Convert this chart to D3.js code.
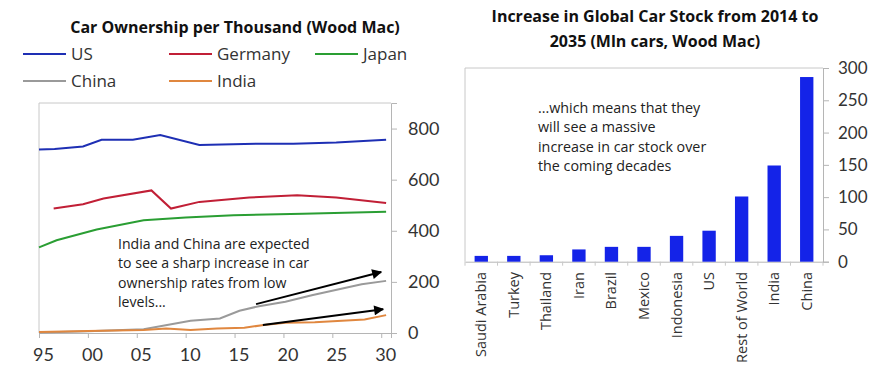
<!DOCTYPE html>
<html>
<head>
<meta charset="utf-8">
<script src="https://cdn.jsdelivr.net/npm/d3@7"></script>
<style>
  body { margin: 0; background: #fff; }
  svg { display: block; font-family: "Open Sans", sans-serif; }
  .domain { stroke: #b5b5b5; }
  .tick line { stroke: #b5b5b5; }
  .tick text { fill: #333; font-family: Lato, sans-serif; }
</style>
</head>
<body>
<svg width="889" height="387"></svg>
<script>
(function () {

    // left chart: car ownership per thousand, [year, value]
    var usData = [[1995, 718], [1996.6, 720], [1999.5, 730], [2001.4, 756], [2004.6, 756],
        [2007.4, 775], [2011.4, 736], [2016, 740], [2021, 741], [2025.4, 745], [2030.5, 756]];
    var germanyData = [[1996.5, 487], [1999.5, 504], [2001.6, 526], [2006.5, 558], [2008.5, 487],
        [2011.4, 513], [2016.5, 530], [2021.4, 539], [2025.4, 530], [2030.5, 509]];
    var japanData = [[1995, 335], [1996.8, 363], [2000.9, 405], [2005.7, 441], [2010, 452],
        [2014.9, 461], [2022, 467], [2030.5, 474]];
    var chinaData = [[1995, 2], [2000, 7], [2005.7, 15], [2010.5, 48], [2013.5, 57], [2015.5, 87],
        [2017.5, 105], [2020.2, 122], [2022.9, 148], [2028, 191], [2030.5, 204]];
    var indiaData = [[1995, 4], [2000, 8], [2005.7, 12], [2008, 18], [2010.5, 12], [2013.2, 18],
        [2016, 21], [2018, 31], [2020.2, 40], [2023.2, 42], [2028.3, 53], [2030.5, 70]];

    var seriesNames = ["US", "Germany", "Japan", "China", "India"];
    var seriesColors = ["#1e2fb4", "#c11f36", "#2a9e33", "#9a9a9a", "#e0873f"];
    var seriesData = [usData, germanyData, japanData, chinaData, indiaData];

    var lineYearTicks = [1995, 2000, 2005, 2010, 2015, 2020, 2025, 2030];
    var lineValueTicks = [0, 200, 400, 600, 800];

    // arrows in the left chart, [year, value] start and end
    var arrows = [
        [[2017.2, 113], [2030, 239]],
        [[2017.9, 31], [2030.2, 93]]
    ];

    // right chart: increase in car stock 2014-2035, mln cars
    var countries = ["Saudi Arabia", "Turkey", "Thailand", "Iran", "Brazil", "Mexico",
        "Indonesia", "US", "Rest of World", "India", "China"];
    var stockIncrease = [9, 9, 10, 19, 23, 23, 40, 48, 101, 149, 286];
    var barValueTicks = [0, 50, 100, 150, 200, 250, 300];

    var svg = d3.select("svg");

    svg.append("defs").append("marker")
        .attr("id", "arrowhead")
        .attr("viewBox", "0 0 10 10")
        .attr("refX", 9)
        .attr("refY", 5)
        .attr("markerWidth", 6)
        .attr("markerHeight", 5)
        .attr("markerUnits", "strokeWidth")
        .attr("orient", "auto")
        .append("path")
        .attr("d", "M0,0L10,5L0,10Z")
        .attr("fill", "#000");

    // ---------- left chart ----------
    var x = d3.scaleLinear().domain([1995, 2031]).range([39, 391]),
        y = d3.scaleLinear().domain([0, 900]).range([333, 103]);

    svg.append("text")
        .attr("x", 235).attr("y", 33)
        .attr("text-anchor", "middle")
        .attr("font-size", "16px")
        .attr("font-weight", "bold")
        .attr("fill", "#111")
        .text("Car Ownership per Thousand (Wood Mac)");

    // legend
    var legend = svg.selectAll(".legend")
        .data(seriesNames)
        .enter().append("g")
        .attr("class", "legend")
        .attr("transform", function (d, i) {
            return "translate(" + [23, 169, 315][i % 3] + "," + (i < 3 ? 54 : 81) + ")";
        });
    legend.append("line")
        .attr("x1", 0).attr("x2", 43)
        .attr("stroke", function (d, i) { return seriesColors[i]; })
        .attr("stroke-width", 2);
    legend.append("text")
        .attr("x", 48).attr("y", 6)
        .attr("font-size", "17px")
        .attr("fill", "#333")
        .text(function (d) { return d; });

    // plot frame
    svg.append("path")
        .attr("d", "M" + x.range()[0] + "," + y(0) + "V" + y.range()[1] + "H" + x.range()[1])
        .attr("fill", "none")
        .attr("stroke", "#c8c8c8");

    svg.append("g")
        .attr("transform", "translate(0," + y(0) + ")")
        .call(d3.axisBottom(x).tickValues(lineYearTicks).tickSizeOuter(0).tickSize(5).tickPadding(10)
            .tickFormat(function (d) { return String(d).slice(2); }))
        .call(function (g) {
            g.selectAll("text").attr("font-size", "18px").attr("dx", 4);
        });

    svg.append("g")
        .attr("transform", "translate(" + x.range()[1] + ",0)")
        .call(d3.axisRight(y).tickValues(lineValueTicks).tickSizeOuter(0).tickSize(6).tickPadding(11))
        .call(function (g) {
            g.selectAll("text").attr("font-size", "18px");
        });

    var line = d3.line()
        .x(function (d) { return x(d[0]); })
        .y(function (d) { return y(d[1]); });

    svg.selectAll(".series")
        .data(seriesData)
        .enter().append("path")
        .attr("class", "series")
        .attr("d", line)
        .attr("fill", "none")
        .attr("stroke", function (d, i) { return seriesColors[i]; })
        .attr("stroke-width", 2);

    var note1 = ["India and China are expected", "to see a sharp increase in car",
        "ownership rates from low", "levels..."];
    svg.append("text")
        .attr("x", 118).attr("y", 249)
        .attr("font-size", "14.1px")
        .attr("fill", "#222")
        .selectAll("tspan")
        .data(note1)
        .enter().append("tspan")
        .attr("x", 118)
        .attr("dy", function (d, i) { return i ? 19.3 : 0; })
        .text(function (d) { return d; });

    svg.selectAll(".arrow")
        .data(arrows)
        .enter().append("line")
        .attr("class", "arrow")
        .attr("x1", function (d) { return x(d[0][0]); })
        .attr("y1", function (d) { return y(d[0][1]); })
        .attr("x2", function (d) { return x(d[1][0]); })
        .attr("y2", function (d) { return y(d[1][1]); })
        .attr("stroke", "#000")
        .attr("stroke-width", 2)
        .attr("marker-end", "url(#arrowhead)");

    // ---------- right chart ----------
    var xb = d3.scaleBand().domain(countries).range([465, 823]).paddingInner(0.59).paddingOuter(0.295),
        yb = d3.scaleLinear().domain([0, 300]).range([261.7, 68]);

    svg.append("text")
        .attr("x", 655).attr("y", 22)
        .attr("text-anchor", "middle")
        .attr("font-size", "16px")
        .attr("font-weight", "bold")
        .attr("fill", "#111")
        .selectAll("tspan")
        .data(["Increase in Global Car Stock from 2014 to", "2035 (Mln cars, Wood Mac)"])
        .enter().append("tspan")
        .attr("x", 655)
        .attr("dy", function (d, i) { return i ? 25 : 0; })
        .text(function (d) { return d; });

    svg.append("path")
        .attr("d", "M" + xb.range()[0] + "," + yb(0) + "V" + yb.range()[1] + "H" + xb.range()[1])
        .attr("fill", "none")
        .attr("stroke", "#c8c8c8");

    var xAxisB = svg.append("g")
        .attr("transform", "translate(0," + yb(0) + ")")
        .call(d3.axisBottom(xb).tickSizeOuter(0).tickSize(0).tickFormat(""));
    // small ticks between the bars
    xAxisB.selectAll(".sep")
        .data(d3.range(countries.length + 1))
        .enter().append("line")
        .attr("class", "sep")
        .attr("x1", function (i) { return xb.range()[0] + i * xb.step(); })
        .attr("x2", function (i) { return xb.range()[0] + i * xb.step(); })
        .attr("y1", 0).attr("y2", 4)
        .attr("stroke", "#c8c8c8");

    svg.append("g")
        .attr("transform", "translate(" + xb.range()[1] + ",0)")
        .call(d3.axisRight(yb).tickValues(barValueTicks).tickSizeOuter(0).tickSize(6).tickPadding(9))
        .call(function (g) {
            g.selectAll("text").attr("font-size", "17px");
        });

    svg.selectAll(".bar")
        .data(stockIncrease)
        .enter().append("rect")
        .attr("class", "bar")
        .attr("x", function (d, i) { return xb(countries[i]); })
        .attr("width", xb.bandwidth())
        .attr("y", function (d) { return yb(d); })
        .attr("height", function (d) { return yb(0) - yb(d); })
        .attr("fill", "#1423e8");

    svg.selectAll(".cat")
        .data(countries)
        .enter().append("text")
        .attr("class", "cat")
        .attr("transform", function (d) {
            return "translate(" + (xb(d) + xb.bandwidth() / 2 + 5) + ",272) rotate(-90)";
        })
        .attr("text-anchor", "end")
        .attr("font-size", "14.5px")
        .attr("fill", "#333")
        .text(function (d) { return d; });

    var note2 = ["...which means that they", "will see a massive",
        "increase in car stock over", "the coming decades"];
    svg.append("text")
        .attr("x", 538).attr("y", 113)
        .attr("font-size", "14.3px")
        .attr("fill", "#222")
        .selectAll("tspan")
        .data(note2)
        .enter().append("tspan")
        .attr("x", 538)
        .attr("dy", function (d, i) { return i ? 19.3 : 0; })
        .text(function (d) { return d; });

})();
</script>
</body>
</html>
